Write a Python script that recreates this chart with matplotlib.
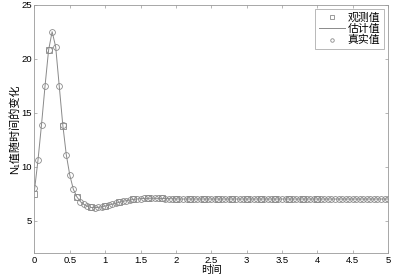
import matplotlib
matplotlib.use("Agg")
import matplotlib.pyplot as plt
import numpy as np

plt.rcParams['font.family'] = ['Liberation Sans', 'Noto Sans CJK SC', 'DejaVu Sans']

# true values, dt = 0.05 from 0 to 5
t_true = [round(0.05 * i, 2) for i in range(101)]
true_vals = [8.0, 10.6, 13.9, 17.5, 20.8, 22.5, 21.1, 17.5, 13.9, 11.1,
             9.2, 7.9, 7.2, 6.75, 6.5, 6.32, 6.22, 6.2, 6.22, 6.28,
             6.35, 6.43, 6.52, 6.61, 6.7, 6.78, 6.85, 6.91, 6.96, 7.0,
             7.03, 7.05, 7.06, 7.07, 7.07, 7.06, 7.05, 7.04, 7.03, 7.02,
             7.01, 7.0, 7.0, 7.0, 7.0, 7.0, 7.0, 7.0, 7.0, 7.0,
             7.0, 7.0, 7.0, 7.0, 7.0, 7.0, 7.0, 7.0, 7.0, 7.0,
             7.0, 7.0, 7.0, 7.0, 7.0, 7.0, 7.0, 7.0, 7.0, 7.0,
             7.0, 7.0, 7.0, 7.0, 7.0, 7.0, 7.0, 7.0, 7.0, 7.0,
             7.0, 7.0, 7.0, 7.0, 7.0, 7.0, 7.0, 7.0, 7.0, 7.0,
             7.0, 7.0, 7.0, 7.0, 7.0, 7.0, 7.0, 7.0, 7.0, 7.0,
             7.0]
est_vals = [7.8, 10.6, 13.9, 17.5, 20.8, 22.5, 21.1, 17.5, 13.9, 11.1,
            9.2, 7.9, 7.2, 6.75, 6.5, 6.32, 6.22, 6.2, 6.22, 6.28,
            6.35, 6.43, 6.52, 6.61, 6.7, 6.78, 6.85, 6.91, 6.96, 7.0,
            7.03, 7.05, 7.06, 7.07, 7.07, 7.06, 7.05, 7.04, 7.03, 7.02,
            7.01, 7.0, 7.0, 7.0, 7.0, 7.0, 7.0, 7.0, 7.0, 7.0,
            7.0, 7.0, 7.0, 7.0, 7.0, 7.0, 7.0, 7.0, 7.0, 7.0,
            7.0, 7.0, 7.0, 7.0, 7.0, 7.0, 7.0, 7.0, 7.0, 7.0,
            7.0, 7.0, 7.0, 7.0, 7.0, 7.0, 7.0, 7.0, 7.0, 7.0,
            7.0, 7.0, 7.0, 7.0, 7.0, 7.0, 7.0, 7.0, 7.0, 7.0,
            7.0, 7.0, 7.0, 7.0, 7.0, 7.0, 7.0, 7.0, 7.0, 7.0,
            7.0]
# observations every 0.2 from 0 to 4
t_obs = [round(0.2 * i, 1) for i in range(21)]
obs_vals = [7.5, 20.8, 13.8, 7.2, 6.22, 6.35, 6.7, 6.96, 7.06, 7.05,
            7.01, 7.0, 7.0, 7.0, 7.0, 7.0, 7.0, 7.0, 7.0, 7.0, 7.0]

xticks = [0, 0.5, 1, 1.5, 2, 2.5, 3, 3.5, 4, 4.5, 5]
xticklabels = ['0', '0.5', '1', '1.5', '2', '2.5', '3', '3.5', '4', '4.5', '5']
yticks = [5, 10, 15, 20, 25]

gray = '#8a8a8a'
fig = plt.figure(figsize=(3.96, 2.78), dpi=100)
ax = fig.add_axes([0.087, 0.09, 0.893, 0.893])

ax.plot(t_obs, obs_vals, linestyle='none', marker='s', markersize=4,
        markerfacecolor='none', markeredgecolor=gray, markeredgewidth=0.6, label='观测值')
ax.plot(t_true, est_vals, color=gray, linewidth=0.7, label='估计值')
ax.plot(t_true, true_vals, linestyle='none', marker='o', markersize=4.2,
        markerfacecolor='none', markeredgecolor=gray, markeredgewidth=0.6, label='真实值')

ax.set_xlim(0, 5)
ax.set_ylim(2, 25)
ax.set_xticks(xticks)
ax.set_xticklabels(xticklabels)
ax.set_yticks(yticks)
ax.tick_params(direction='in', length=2.5, width=0.5, labelsize=6.8, colors='#999999',
               labelcolor='black', top=True, right=True, pad=2)
for s in ax.spines.values():
    s.set_color('#999999')
    s.set_linewidth(0.6)

ax.set_xlabel('时间', fontsize=7.5, labelpad=0, family=['Noto Sans CJK SC'])
ax.set_ylabel('N\u2081值随时间的变化', fontsize=8, labelpad=1,
              family=['Liberation Sans', 'Noto Sans CJK SC', 'DejaVu Sans'])

leg = ax.legend(loc='upper right', frameon=True, fancybox=False,
                edgecolor='#999999', handlelength=2.4, handletextpad=0.3,
                borderpad=0.3, labelspacing=0.12, markerscale=0.6,
                borderaxespad=0.4,
                prop={'family': ['Noto Sans CJK SC'], 'size': 7.8})
leg.get_frame().set_linewidth(0.6)

fig.savefig('out.png', dpi=100)
